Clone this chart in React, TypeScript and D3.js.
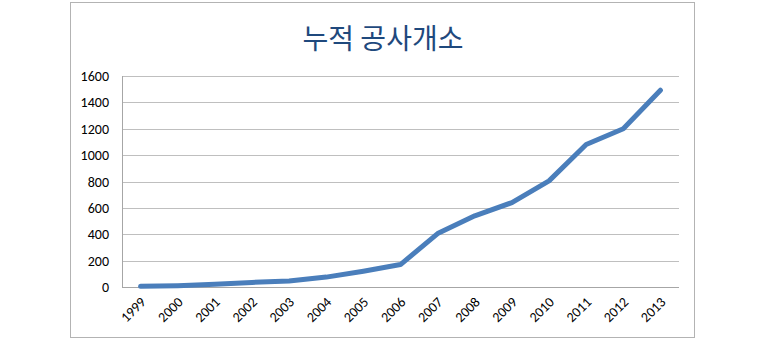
import React from "react";
import * as d3 from "d3";

const years = ["1999","2000","2001","2002","2003","2004","2005","2006","2007","2008","2009","2010","2011","2012","2013"];
const values = [5, 10, 20, 35, 45, 75, 120, 170, 405, 540, 640, 805, 1080, 1200, 1492];
const yTicks = [0, 200, 400, 600, 800, 1000, 1200, 1400, 1600];
const title = "누적 공사개소";

export default function App() {
  const W = 757, H = 341;
  const left = 122, right = 679, top = 76, bottom = 287;
  const x = d3.scaleBand<string>().domain(years).range([left, right]);
  const y = d3.scaleLinear().domain([0, 1600]).range([bottom, top]);
  const line = d3.line<number>()
    .x((_, i) => (x(years[i]) as number) + x.bandwidth() / 2)
    .y((d) => y(d));
  const font = "Carlito, Lato, 'Liberation Sans', sans-serif";
  return (
    <svg width={W} height={H} style={{ position: "absolute", left: 0, top: 0 }}>
      <rect x={0} y={0} width={W} height={H} fill="#fff" />
      <rect x={70.5} y={2.5} width={624} height={335} fill="#fff" stroke="#b3b3b3" strokeWidth={1} />
      <text x={383} y={49} textAnchor="middle" fontSize={28} fill="#1F497D"
        fontFamily="'Noto Sans CJK KR', sans-serif">{title}</text>
      {yTicks.map((t) => (
        <g key={t}>
          <line x1={left} x2={right} y1={Math.round(y(t)) + 0.5} y2={Math.round(y(t)) + 0.5}
            stroke={t === 0 ? "#a6a6a6" : "#bfbfbf"} strokeWidth={1} />
          <text x={109} y={y(t) + 5} textAnchor="end" fontSize={14} fill="#000" fontFamily={font}>{t}</text>
        </g>
      ))}
      <line x1={left + 0.5} x2={left + 0.5} y1={top} y2={bottom} stroke="#a6a6a6" strokeWidth={1} />
      <path d={line(values) || ""} fill="none" stroke="#4A7EBB" strokeWidth={5} strokeLinecap="round" strokeLinejoin="round" />
      {years.map((yr) => {
        const cx = (x(yr) as number) + x.bandwidth() / 2;
        return (
          <text key={yr} transform={`translate(${cx + 6},${bottom + 16}) rotate(-45)`} textAnchor="end"
            fontSize={14} fill="#000" fontFamily={font}>{yr}</text>
        );
      })}
    </svg>
  );
}
